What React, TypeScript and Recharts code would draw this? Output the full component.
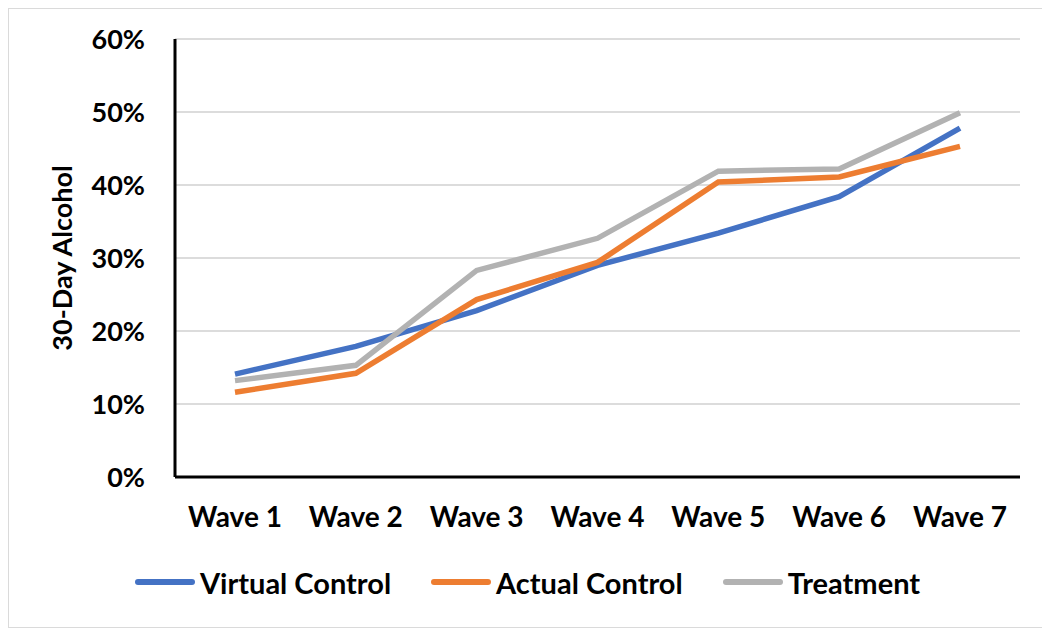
import React from 'react';
import { LineChart, Line, XAxis, YAxis, CartesianGrid, Legend } from 'recharts';

const waves = ['Wave 1', 'Wave 2', 'Wave 3', 'Wave 4', 'Wave 5', 'Wave 6', 'Wave 7'];
const virtualControl = [14.1, 17.9, 22.8, 29.0, 33.4, 38.4, 47.8];
const actualControl = [11.6, 14.2, 24.3, 29.4, 40.4, 41.1, 45.3];
const treatment = [13.2, 15.3, 28.3, 32.7, 41.9, 42.2, 49.9];
const yTicks = [0, 10, 20, 30, 40, 50, 60];

const series = [
    { key: 'virtual', name: 'Virtual Control', color: '#4472C4' },
    { key: 'actual', name: 'Actual Control', color: '#ED7D31' },
    { key: 'treatment', name: 'Treatment', color: '#B2B2B2' },
];

const data = waves.map((wave, i) => ({
    wave,
    virtual: virtualControl[i],
    actual: actualControl[i],
    treatment: treatment[i],
}));

const font = 'Lato, "Open Sans", sans-serif';

const AxisTitle = (props: any) => {
    const { viewBox } = props;
    const x = viewBox.x + 26;
    const y = viewBox.y + viewBox.height / 2;
    return (
        <text x={x} y={y} transform={`rotate(-90, ${x}, ${y})`} textAnchor="middle" dominantBaseline="central"
            fontFamily={font} fontWeight={700} fontSize={27} fill="#000">
            30-Day Alcohol
        </text>
    );
};

const renderLegend = () => (
    <div style={{ display: 'flex', justifyContent: 'center', alignItems: 'center', gap: 40, height: 40, fontFamily: font, fontWeight: 700, fontSize: 29, color: '#000' }}>
        {series.map((s) => (
            <div key={s.key} style={{ display: 'flex', alignItems: 'center' }}>
                <span style={{ display: 'inline-block', width: 60, height: 6, borderRadius: 3, background: s.color, marginRight: 5 }} />
                <span>{s.name}</span>
            </div>
        ))}
    </div>
);

export default function App() {
    return (
        <div style={{ width: 1036, height: 618, border: '1px solid #DADADA', background: '#fff' }}>
            <LineChart width={1036} height={618} data={data} margin={{ top: 30, right: 25, left: 26, bottom: 25 }}>
                <CartesianGrid vertical={false} stroke="#DCDCDC" strokeWidth={2} />
                <XAxis dataKey="wave" height={85} padding={{ left: 60, right: 60 }} tickLine={false} tickSize={0} tickMargin={30}
                    axisLine={{ stroke: '#000', strokeWidth: 3 }}
                    tick={{ fontFamily: font, fontWeight: 700, fontSize: 28, fill: '#000' }} />
                <XAxis xAxisId="top" dataKey="wave" orientation="top" height={0} tick={false} tickLine={false}
                    axisLine={{ stroke: '#000', strokeWidth: 3 }} />
                <YAxis width={140} domain={[0, 60]} ticks={yTicks} tickFormatter={(v) => `${v}%`} tickLine={false} tickSize={0} tickMargin={30}
                    axisLine={{ stroke: '#000', strokeWidth: 3 }}
                    tick={{ fontFamily: font, fontWeight: 700, fontSize: 27, fill: '#000' }}
                    label={<AxisTitle />} />
                <YAxis yAxisId="right" orientation="right" width={0} domain={[0, 60]} tick={false} tickLine={false}
                    axisLine={{ stroke: '#000', strokeWidth: 3 }} />
                <Legend verticalAlign="bottom" content={renderLegend} />
                {series.map((s) => (
                    <Line key={s.key} type="linear" dataKey={s.key} name={s.name} stroke={s.color} strokeWidth={5.5}
                        dot={false} activeDot={false} isAnimationActive={false} />
                ))}
            </LineChart>
        </div>
    );
}
